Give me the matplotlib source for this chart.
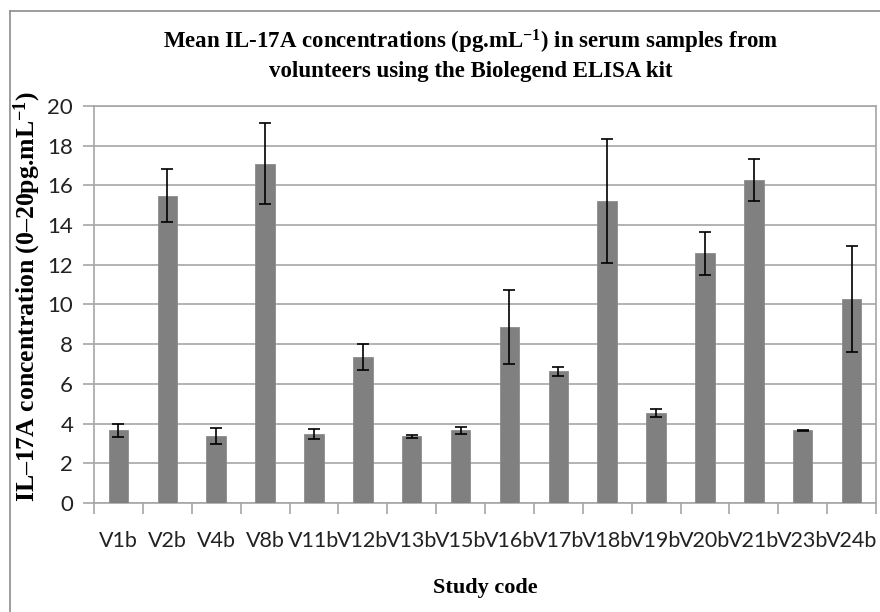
import numpy as np
import matplotlib
matplotlib.use("Agg")
import matplotlib.pyplot as plt
from matplotlib.lines import Line2D

# mean IL-17A per volunteer and the error bar half-lengths
codes = ["V1b", "V2b", "V4b", "V8b", "V11b", "V12b", "V13b", "V15b",
         "V16b", "V17b", "V18b", "V19b", "V20b", "V21b", "V23b", "V24b"]
means = [3.66, 15.49, 3.37, 17.10, 3.47, 7.35, 3.37, 3.66,
         8.86, 6.63, 15.23, 4.53, 12.57, 16.29, 3.66, 10.29]
errs = [0.32, 1.32, 0.40, 2.04, 0.26, 0.65, 0.08, 0.18,
        1.86, 0.23, 3.13, 0.22, 1.10, 1.06, 0.03, 2.66]
yticks = list(range(0, 21, 2))

plt.rcParams['mathtext.fontset'] = 'custom'
plt.rcParams['mathtext.rm'] = 'Liberation Serif:bold'
plt.rcParams['mathtext.default'] = 'rm'

W, H = 880, 612
fig = plt.figure(figsize=(W / 100, H / 100), dpi=100)
ax = fig.add_axes([94 / W, 1 - 503 / H, 782 / W, 397 / H])

x = np.arange(len(codes))
ax.bar(x, means, width=0.4, color="#808080", edgecolor="#8c8c8c", linewidth=0.6, zorder=3)
ax.errorbar(x, means, yerr=errs, fmt="none", ecolor="black", elinewidth=1.2,
            capsize=4, capthick=1.2, zorder=4)

ax.set_xlim(-0.5, len(codes) - 0.5)
ax.set_ylim(0, 20)
ax.set_yticks(yticks)
ax.yaxis.grid(True, color="#a6a6a6", linewidth=1.2, zorder=0)
ax.set_axisbelow(True)

# category boundaries carry the x tick marks
ax.set_xticks(x)
ax.set_xticklabels(codes, family="Lato", fontsize=15.5, color="#222222")
ax.set_xticks(np.arange(-0.5, len(codes), 1), minor=True)
ax.tick_params(axis="x", which="major", length=0, pad=20)
ax.tick_params(axis="x", which="minor", length=8, color="#a6a6a6", width=1.2)
ax.tick_params(axis="y", length=8, color="#a6a6a6", width=1.2, pad=7,
               labelsize=16, labelcolor="#222222")
for lab in ax.get_yticklabels():
    lab.set_family("Lato")

for s in ax.spines.values():
    s.set_color("#a6a6a6")
    s.set_linewidth(1.2)

fig.text(471 / W, 1 - 55 / H,
         "Mean IL-17A concentrations (pg.mL$^{-1}$) in serum samples from\n"
         "volunteers using the Biolegend ELISA kit",
         ha="center", va="center", family="Liberation Serif", weight="bold",
         fontsize=16.5, linespacing=1.3)
fig.text(485 / W, 1 - 588 / H, "Study code", ha="center", va="center",
         family="Liberation Serif", weight="bold", fontsize=16)
fig.text(27 / W, 1 - 297 / H, "IL–17A concentration (0–20pg.mL$^{-1}$)",
         rotation=90, ha="center", va="center",
         family="Liberation Serif", weight="bold", fontsize=18.5)

# outer chart frame
fig.add_artist(Line2D([10 / W, 10 / W], [0, 1 - 11 / H], color="#8c8c8c", lw=1.2))
fig.add_artist(Line2D([10 / W, 1], [1 - 11 / H, 1 - 11 / H], color="#8c8c8c", lw=1.2))

fig.savefig("out.png", dpi=100)
